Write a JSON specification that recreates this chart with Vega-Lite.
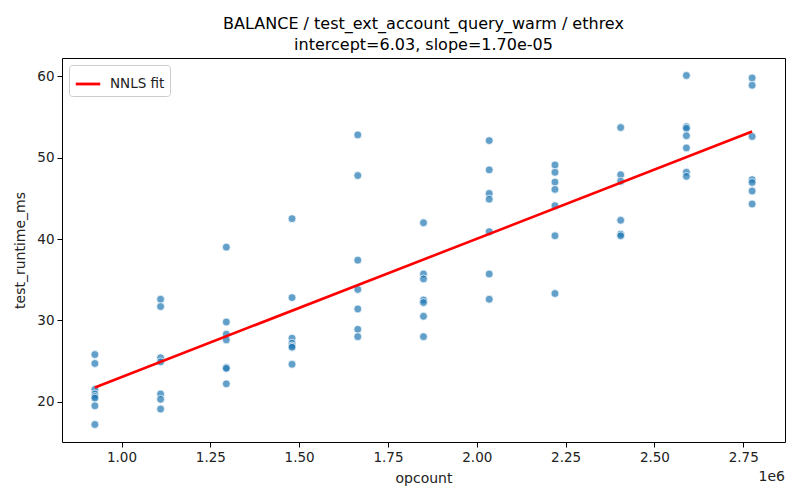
{
  "$schema": "https://vega.github.io/schema/vega-lite/v6.json",
  "autosize": "none",
  "width": 723,
  "height": 384,
  "padding": {"left": 62, "top": 58, "right": 15, "bottom": 58},
  "background": "white",
  "title": {
    "text": ["BALANCE / test_ext_account_query_warm / ethrex", "intercept=6.03, slope=1.70e-05"],
    "font": "DejaVu Sans",
    "fontSize": 16,
    "fontWeight": "normal",
    "color": "black",
    "lineHeight": 21,
    "anchor": "middle",
    "offset": 5
  },
  "datasets": {
    "points": [
      {"opcount": 925000, "test_runtime_ms": 25.8},
      {"opcount": 925000, "test_runtime_ms": 24.7},
      {"opcount": 925000, "test_runtime_ms": 21.5},
      {"opcount": 925000, "test_runtime_ms": 20.95},
      {"opcount": 925000, "test_runtime_ms": 20.65},
      {"opcount": 925000, "test_runtime_ms": 20.45},
      {"opcount": 925000, "test_runtime_ms": 19.5},
      {"opcount": 925000, "test_runtime_ms": 17.2},
      {"opcount": 1110000, "test_runtime_ms": 32.6},
      {"opcount": 1110000, "test_runtime_ms": 31.7},
      {"opcount": 1110000, "test_runtime_ms": 25.4},
      {"opcount": 1110000, "test_runtime_ms": 24.9},
      {"opcount": 1110000, "test_runtime_ms": 20.95},
      {"opcount": 1110000, "test_runtime_ms": 20.3},
      {"opcount": 1110000, "test_runtime_ms": 19.1},
      {"opcount": 1295000, "test_runtime_ms": 39.0},
      {"opcount": 1295000, "test_runtime_ms": 29.8},
      {"opcount": 1295000, "test_runtime_ms": 28.3},
      {"opcount": 1295000, "test_runtime_ms": 27.6},
      {"opcount": 1295000, "test_runtime_ms": 24.2},
      {"opcount": 1295000, "test_runtime_ms": 24.1},
      {"opcount": 1295000, "test_runtime_ms": 22.2},
      {"opcount": 1480000, "test_runtime_ms": 42.5},
      {"opcount": 1480000, "test_runtime_ms": 32.8},
      {"opcount": 1480000, "test_runtime_ms": 27.8},
      {"opcount": 1480000, "test_runtime_ms": 27.2},
      {"opcount": 1480000, "test_runtime_ms": 26.85},
      {"opcount": 1480000, "test_runtime_ms": 26.7},
      {"opcount": 1480000, "test_runtime_ms": 24.6},
      {"opcount": 1665000, "test_runtime_ms": 52.8},
      {"opcount": 1665000, "test_runtime_ms": 47.8},
      {"opcount": 1665000, "test_runtime_ms": 37.4},
      {"opcount": 1665000, "test_runtime_ms": 33.8},
      {"opcount": 1665000, "test_runtime_ms": 31.4},
      {"opcount": 1665000, "test_runtime_ms": 28.9},
      {"opcount": 1665000, "test_runtime_ms": 28.0},
      {"opcount": 1850000, "test_runtime_ms": 42.0},
      {"opcount": 1850000, "test_runtime_ms": 35.7},
      {"opcount": 1850000, "test_runtime_ms": 35.1},
      {"opcount": 1850000, "test_runtime_ms": 32.5},
      {"opcount": 1850000, "test_runtime_ms": 32.2},
      {"opcount": 1850000, "test_runtime_ms": 30.5},
      {"opcount": 1850000, "test_runtime_ms": 28.0},
      {"opcount": 2035000, "test_runtime_ms": 52.1},
      {"opcount": 2035000, "test_runtime_ms": 48.5},
      {"opcount": 2035000, "test_runtime_ms": 45.6},
      {"opcount": 2035000, "test_runtime_ms": 44.9},
      {"opcount": 2035000, "test_runtime_ms": 40.9},
      {"opcount": 2035000, "test_runtime_ms": 35.7},
      {"opcount": 2035000, "test_runtime_ms": 32.6},
      {"opcount": 2220000, "test_runtime_ms": 49.1},
      {"opcount": 2220000, "test_runtime_ms": 48.2},
      {"opcount": 2220000, "test_runtime_ms": 47.0},
      {"opcount": 2220000, "test_runtime_ms": 46.1},
      {"opcount": 2220000, "test_runtime_ms": 44.1},
      {"opcount": 2220000, "test_runtime_ms": 40.4},
      {"opcount": 2220000, "test_runtime_ms": 33.3},
      {"opcount": 2405000, "test_runtime_ms": 53.7},
      {"opcount": 2405000, "test_runtime_ms": 47.9},
      {"opcount": 2405000, "test_runtime_ms": 47.1},
      {"opcount": 2405000, "test_runtime_ms": 42.3},
      {"opcount": 2405000, "test_runtime_ms": 40.6},
      {"opcount": 2405000, "test_runtime_ms": 40.4},
      {"opcount": 2590000, "test_runtime_ms": 60.1},
      {"opcount": 2590000, "test_runtime_ms": 53.8},
      {"opcount": 2590000, "test_runtime_ms": 53.6},
      {"opcount": 2590000, "test_runtime_ms": 52.7},
      {"opcount": 2590000, "test_runtime_ms": 51.2},
      {"opcount": 2590000, "test_runtime_ms": 48.2},
      {"opcount": 2590000, "test_runtime_ms": 47.7},
      {"opcount": 2775000, "test_runtime_ms": 59.8},
      {"opcount": 2775000, "test_runtime_ms": 58.9},
      {"opcount": 2775000, "test_runtime_ms": 52.6},
      {"opcount": 2775000, "test_runtime_ms": 47.3},
      {"opcount": 2775000, "test_runtime_ms": 46.95},
      {"opcount": 2775000, "test_runtime_ms": 45.9},
      {"opcount": 2775000, "test_runtime_ms": 44.3}
    ],
    "fit": [
      {"opcount": 925000, "test_runtime_ms": 21.755, "series": "NNLS fit"},
      {"opcount": 2775000, "test_runtime_ms": 53.205, "series": "NNLS fit"}
    ]
  },
  "encoding": {
    "x": {
      "field": "opcount",
      "type": "quantitative",
      "title": "opcount",
      "scale": {"domain": [832500, 2867500], "nice": false, "zero": false},
      "axis": {
        "values": [1000000, 1250000, 1500000, 1750000, 2000000, 2250000, 2500000, 2750000],
        "labelExpr": "format(datum.value / 1000000, '.2f')"
      }
    },
    "y": {
      "field": "test_runtime_ms",
      "type": "quantitative",
      "title": "test_runtime_ms",
      "scale": {"domain": [15.05, 62.25], "nice": false, "zero": false},
      "axis": {"values": [20, 30, 40, 50, 60]}
    }
  },
  "layer": [
    {
      "data": {"name": "points"},
      "mark": {
        "type": "circle",
        "size": 62,
        "color": "#1f77b4",
        "fillOpacity": 0.7,
        "stroke": "white",
        "strokeWidth": 0.8,
        "strokeOpacity": 0.9
      }
    },
    {
      "data": {"name": "fit"},
      "mark": {"type": "line", "strokeWidth": 2.6},
      "encoding": {
        "color": {
          "field": "series",
          "type": "nominal",
          "scale": {"range": ["#ff0000"]},
          "legend": {
            "title": null,
            "orient": "top-left",
            "offset": 7,
            "symbolType": "stroke",
            "symbolSize": 600,
            "symbolStrokeWidth": 2.8,
            "labelFont": "DejaVu Sans",
            "labelFontSize": 13.5,
            "labelColor": "#222222",
            "labelOffset": 8,
            "padding": 5,
            "strokeColor": "#cccccc",
            "fillColor": "white",
            "cornerRadius": 3
          }
        }
      }
    },
    {
      "data": {"values": [{"opcount": 2867500, "test_runtime_ms": 15.05, "label": "1e6"}]},
      "mark": {
        "type": "text",
        "align": "right",
        "baseline": "middle",
        "dy": 35,
        "font": "DejaVu Sans",
        "fontSize": 14,
        "color": "#222222"
      },
      "encoding": {"text": {"field": "label"}}
    }
  ],
  "config": {
    "view": {"stroke": "black", "strokeWidth": 1},
    "axis": {
      "grid": false,
      "domain": false,
      "tickColor": "black",
      "tickSize": 5,
      "tickWidth": 1,
      "labelFont": "DejaVu Sans",
      "labelFontSize": 13.5,
      "labelColor": "#222222",
      "labelPadding": 3,
      "titleFont": "DejaVu Sans",
      "titleFontSize": 14,
      "titleFontWeight": "normal",
      "titleColor": "#222222"
    },
    "axisX": {"titlePadding": 8},
    "axisY": {"titlePadding": 9}
  }
}
